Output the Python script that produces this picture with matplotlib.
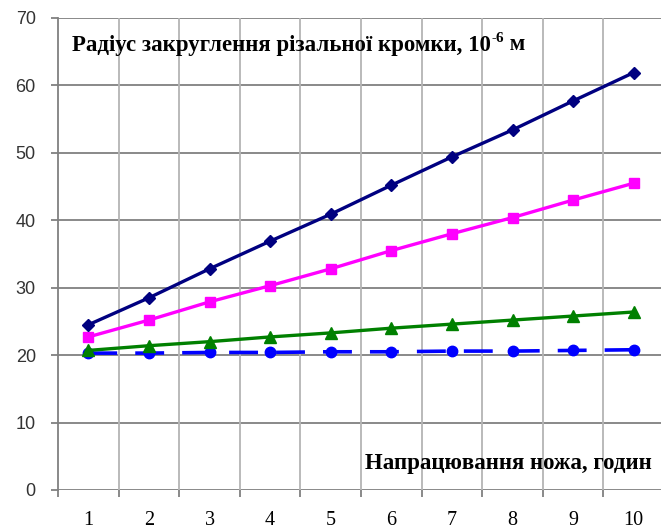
import numpy as np
import matplotlib
matplotlib.use("Agg")
import matplotlib.pyplot as plt

hours = [1, 2, 3, 4, 5, 6, 7, 8, 9, 10]
navy_vals = [24.5, 28.5, 32.8, 36.9, 40.9, 45.2, 49.4, 53.4, 57.7, 61.9]
pink_vals = [22.7, 25.2, 27.9, 30.3, 32.8, 35.5, 38.0, 40.4, 43.0, 45.5]
green_vals = [20.7, 21.4, 22.0, 22.7, 23.3, 24.0, 24.6, 25.2, 25.8, 26.4]
blue_vals = [20.3, 20.3, 20.4, 20.4, 20.5, 20.5, 20.6, 20.6, 20.7, 20.8]
y_ticks = [0, 10, 20, 30, 40, 50, 60, 70]

fig = plt.figure(figsize=(6.61, 5.29), dpi=100)
ax = fig.add_axes([58/661, 39/529, 606/661, 472/529])

ax.set_xlim(0.5, 10.5)
ax.set_ylim(0, 70)

# grid: horizontal darker, vertical lighter
for y in y_ticks:
    ax.axhline(y, color="#808080", lw=1.3, zorder=1)
for x in np.arange(1.5, 10.5, 1.0):
    ax.axvline(x, color="#b4b4b4", lw=1.3, zorder=1)

ax.plot(hours, navy_vals, color="#000080", lw=2.4, marker="D", ms=6.5, zorder=5)
ax.plot(hours, pink_vals, color="#ff00ff", lw=2.4, marker="s", ms=7.5, zorder=4)
ax.plot(hours, green_vals, color="#008000", lw=2.4, marker="^", ms=8, zorder=3)
ax.plot(hours, blue_vals, color="#0000ff", lw=2.6, marker="o", ms=7.5,
        dashes=(8, 5), zorder=2)

for s in ["top", "right", "bottom"]:
    ax.spines[s].set_visible(False)
ax.spines["left"].set_color("#808080")
ax.spines["left"].set_linewidth(1.3)

ax.set_yticks(y_ticks)
ax.set_yticklabels([str(v) for v in y_ticks], fontfamily="Liberation Sans",
                   fontsize=13, color="#333333")
ax.tick_params(axis="y", length=5, color="#808080", width=1.3, pad=11)

ax.set_xticks(hours)
ax.set_xticklabels([str(h) for h in hours], fontfamily="Liberation Serif",
                   fontsize=14.5)
ax.tick_params(axis="x", length=0, pad=15)
ax.set_xticks(np.arange(0.5, 11, 1.0), minor=True)
ax.tick_params(axis="x", which="minor", length=5, color="#808080", width=1.3)

lbl = dict(fontfamily="Liberation Serif", fontweight="bold")
t1 = fig.text(72/661, 1 - 45/529, "Радіус закруглення різальної кромки, 10",
              fontsize=16.5, va="center", ha="left", **lbl)
t2 = ax.annotate("-6", xy=(1, 0.5), xycoords=t1, xytext=(0.5, 0),
                 textcoords="offset points", fontsize=11, va="bottom",
                 ha="left", **lbl)
ax.annotate(" м", xy=(1, 1 - 45/529), xycoords=(t2, "figure fraction"),
            fontsize=16.5, va="center", ha="left", **lbl)
fig.text(652/661, 1 - 463/529, "Напрацювання ножа, годин",
         fontsize=16.5, va="center", ha="right", **lbl)

fig.savefig("out.png", dpi=100)
